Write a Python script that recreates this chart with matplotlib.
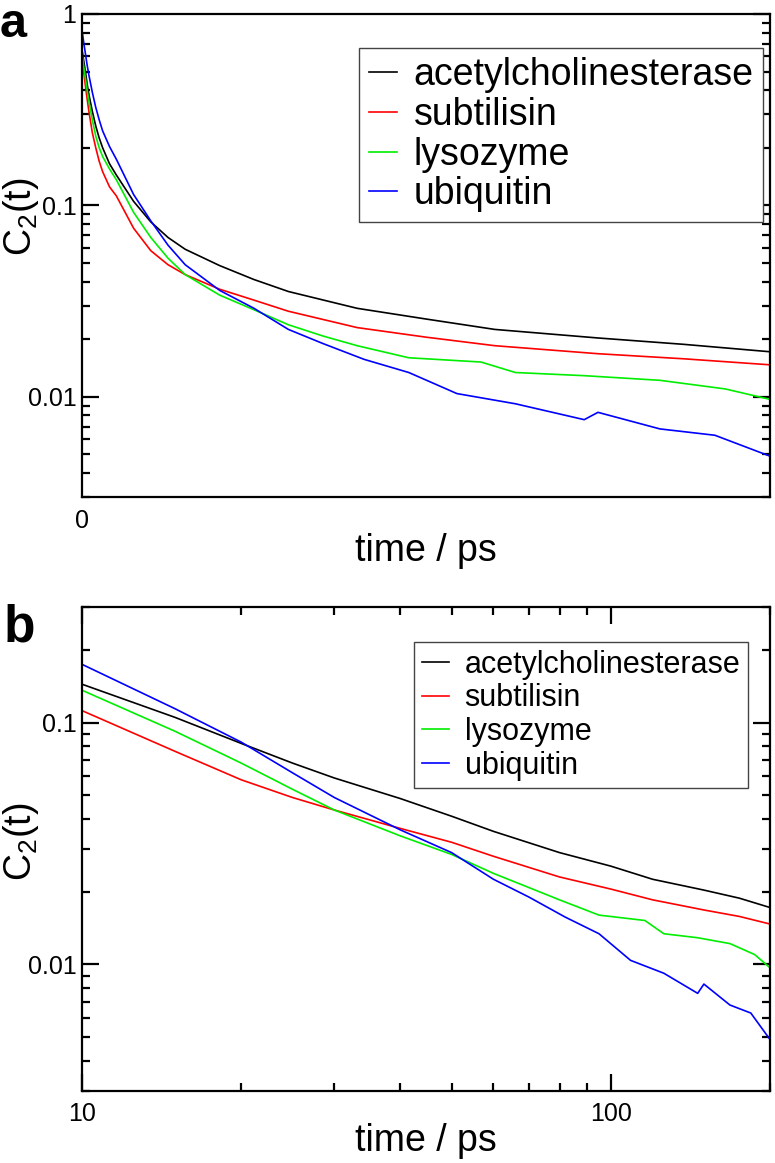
import numpy as np
import matplotlib
matplotlib.use('Agg')
import matplotlib.pyplot as plt
from matplotlib.ticker import LogLocator, NullFormatter, FixedLocator, FixedFormatter

plt.rcParams['font.family'] = ['Liberation Sans', 'DejaVu Sans']
plt.rcParams['mathtext.fontset'] = 'custom'
plt.rcParams['mathtext.rm'] = 'Liberation Sans'
plt.rcParams['mathtext.default'] = 'regular'
plt.rcParams['xtick.labelsize'] = 18
plt.rcParams['ytick.labelsize'] = 18

# C2(t) (time in ps)
names = ['acetylcholinesterase', 'subtilisin', 'lysozyme', 'ubiquitin']
colors = ['#000000', '#ff0000', '#00ee00', '#0000ff']

t_ace = [0, 0.5, 1, 1.5, 2, 3, 4, 5, 6, 8, 10, 15, 20, 25, 30, 40, 50, 60, 80, 100, 120, 150,
         175, 200]
c_ace = [0.65, 0.57, 0.50, 0.43, 0.38, 0.31, 0.26, 0.225, 0.20, 0.165, 0.144, 0.105, 0.082,
         0.068, 0.059, 0.0485, 0.041, 0.0355, 0.029, 0.0255, 0.0225, 0.0203, 0.0188, 0.0172]

t_sub = [0, 0.5, 1, 1.5, 2, 3, 4, 5, 6, 8, 10, 15, 20, 25, 30, 40, 50, 60, 80, 100, 120, 150,
         175, 200]
c_sub = [0.60, 0.50, 0.42, 0.36, 0.31, 0.24, 0.20, 0.17, 0.15, 0.125, 0.112, 0.076, 0.058,
         0.049, 0.0435, 0.0365, 0.032, 0.028, 0.023, 0.0205, 0.0185, 0.0168, 0.0158, 0.0147]

t_lys = [0, 0.5, 1, 1.5, 2, 3, 4, 5, 6, 8, 10, 15, 20, 25, 30, 40, 50, 60, 70, 80, 95, 116, 126,
         146, 168, 187, 200]
c_lys = [0.62, 0.53, 0.46, 0.40, 0.35, 0.28, 0.23, 0.20, 0.18, 0.155, 0.136, 0.092, 0.068,
         0.053, 0.0435, 0.034, 0.0285, 0.0238, 0.0208, 0.0185, 0.016, 0.0152, 0.0134, 0.0129,
         0.0122, 0.011, 0.0097]

t_ubq = [0, 0.5, 1, 1.5, 2, 3, 4, 5, 6, 8, 10, 15, 20, 25, 30, 40, 50, 60, 70, 82, 95, 109,
         126, 146, 150, 168, 184, 200]
c_ubq = [0.82, 0.71, 0.62, 0.54, 0.48, 0.39, 0.325, 0.28, 0.245, 0.203, 0.174, 0.114, 0.083,
         0.062, 0.049, 0.036, 0.029, 0.0225, 0.019, 0.0157, 0.0134, 0.0104, 0.0092, 0.0076,
         0.0083, 0.0068, 0.0063, 0.0049]

series = [(t_ace, c_ace), (t_sub, c_sub), (t_lys, c_lys), (t_ubq, c_ubq)]

fig = plt.figure(figsize=(7.75, 11.63), dpi=100)
ax_a = fig.add_axes([0.1058, 0.5727, 0.8877, 0.4153])
ax_b = fig.add_axes([0.1058, 0.0619, 0.8877, 0.4161])


def style_axis(ax):
    ax.set_yscale('log')
    for sp in ax.spines.values():
        sp.set_linewidth(1.6)
    ax.yaxis.set_major_locator(FixedLocator([0.01, 0.1, 1]))
    ax.yaxis.set_major_formatter(FixedFormatter(['0.01', '0.1', '1']))
    ax.yaxis.set_minor_locator(LogLocator(base=10, subs=np.arange(2, 10)))
    ax.yaxis.set_minor_formatter(NullFormatter())


def style_ticks(ax, top_ticks):
    ax.tick_params(which='both', direction='in', right=True, top=top_ticks,
                   labelsize=18, width=1.6, pad=4)
    ax.tick_params(which='major', length=12)
    ax.tick_params(which='minor', length=6)


# panel a: semilog
for (t, c), col, name in zip(series, colors, names):
    ax_a.plot(t, c, color=col, lw=1.2, label=name)
style_axis(ax_a)
ax_a.set_xlim(0, 200)
ax_a.set_ylim(0.003, 1)
ax_a.set_xticks([0])
ax_a.set_xticklabels(['0'])
style_ticks(ax_a, False)
ax_a.tick_params(axis='x', length=0, pad=9)
ax_a.set_xlabel('time / ps', fontsize=27, labelpad=0)
ax_a.set_ylabel('C$_2$(t)', fontsize=27)
ax_a.yaxis.set_label_coords(-0.06, 0.58)
leg = ax_a.legend(loc='upper right', bbox_to_anchor=(0.99, 0.93), borderaxespad=0,
                  fontsize=27, handlelength=0.75, handletextpad=0.45, labelspacing=0.1,
                  borderpad=0.25, fancybox=False, framealpha=1)
leg.get_frame().set_edgecolor('#444444')
leg.get_frame().set_linewidth(1.0)

# panel b: log-log
for (t, c), col, name in zip(series, colors, names):
    t = np.array(t, dtype=float)
    c = np.array(c)
    m = t >= 10
    ax_b.plot(t[m], c[m], color=col, lw=1.2, label=name)
style_axis(ax_b)
ax_b.set_xscale('log')
ax_b.set_xlim(10, 200)
ax_b.set_ylim(0.003, 0.3)
ax_b.xaxis.set_major_locator(FixedLocator([10, 100]))
ax_b.xaxis.set_major_formatter(FixedFormatter(['10', '100']))
ax_b.xaxis.set_minor_locator(LogLocator(base=10, subs=np.arange(2, 10)))
ax_b.xaxis.set_minor_formatter(NullFormatter())
style_ticks(ax_b, True)
ax_b.tick_params(axis='x', which='major', pad=8)
ax_b.set_xlabel('time / ps', fontsize=27, labelpad=-2)
ax_b.set_ylabel('C$_2$(t)', fontsize=27)
ax_b.yaxis.set_label_coords(-0.06, 0.515)
leg = ax_b.legend(loc='upper right', bbox_to_anchor=(0.968, 0.928), borderaxespad=0,
                  fontsize=22, handlelength=0.9, handletextpad=0.5, labelspacing=0.12,
                  borderpad=0.25, fancybox=False, framealpha=1)
leg.get_frame().set_edgecolor('#444444')
leg.get_frame().set_linewidth(1.0)

fig.text(0.0, 0.998, 'a', fontsize=35, fontweight='bold', va='top', ha='left')
fig.text(0.004, 0.448, 'b', fontsize=37, fontweight='bold', va='baseline', ha='left')

fig.savefig('out.png', dpi=100)
